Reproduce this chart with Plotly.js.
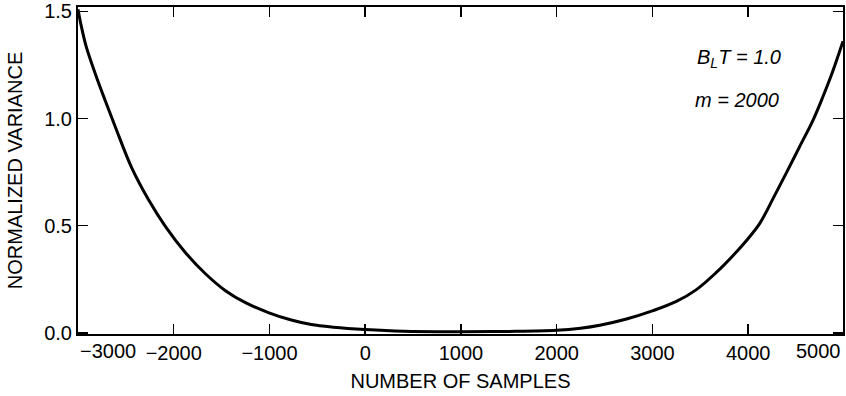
<!DOCTYPE html>
<html>
<head>
<meta charset="utf-8">
<script src="https://cdn.plot.ly/plotly-3.0.1.min.js"></script>
<style>
  html, body { margin: 0; padding: 0; background: #fff; }
  #chart { width: 846px; height: 396px; }
</style>
</head>
<body>
<div id="chart"></div>
<script>
// Data
const samples = [-3000, -2970, -2914, -2815, -2711, -2607, -2440, -2263, -2086, -1877, -1669, -1460, -1251, -1012, -772, -563, -334, 0, 400, 1000, 1500, 2000, 2250, 2450, 2729, 3006, 3250, 3459, 3667, 3840, 3980, 4119, 4258, 4397, 4536, 4675, 4779, 4883, 4990];
const variance = [1.51, 1.44, 1.335, 1.203, 1.078, 0.957, 0.771, 0.621, 0.496, 0.374, 0.276, 0.197, 0.141, 0.095, 0.060, 0.039, 0.027, 0.016, 0.008, 0.006, 0.007, 0.012, 0.022, 0.036, 0.065, 0.104, 0.147, 0.202, 0.282, 0.360, 0.430, 0.510, 0.625, 0.745, 0.868, 0.990, 1.100, 1.220, 1.360];

const xTickVals = [-3000, -2000, -1000, 0, 1000, 2000, 3000, 4000, 5000];
const xTickText = ['\u22123000', '\u22122000', '\u22121000', '0', '1000', '2000', '3000', '4000', '5000'];
const yTickVals = [0, 0.5, 1.0, 1.5];
const yTickText = ['0.0', '0.5', '1.0', '1.5'];

const xTitle = 'NUMBER OF SAMPLES';
const yTitle = 'NORMALIZED VARIANCE';
const noteLines = ['<i>B<sub>L</sub>T = 1.0</i>', '<i>m = 2000</i>'];

const xRange = [-3000, 4990];
const yRange = [-0.005, 1.52];

const FONT = 'Liberation Sans, Arial, Helvetica, sans-serif';
const FS = 20;

// Edge labels (at the plot border) are drawn as annotations, shifted inward like the original
const last = xTickVals.length - 1;
const innerVals = xTickVals.slice(1, last);
const innerText = xTickText.slice(1, last);

const annotations = [
  { xref: 'paper', yref: 'paper', x: 0.806, y: 0.843, xanchor: 'left', yanchor: 'middle',
    text: noteLines[0], showarrow: false, font: { family: FONT, size: FS, color: '#000' } },
  { xref: 'paper', yref: 'paper', x: 0.804, y: 0.716, xanchor: 'left', yanchor: 'middle',
    text: noteLines[1], showarrow: false, font: { family: FONT, size: FS, color: '#000' } },
  { xref: 'x', yref: 'paper', x: xRange[0], y: 0, yshift: -4, xanchor: 'left', yanchor: 'top',
    text: xTickText[0], showarrow: false, font: { family: FONT, size: FS, color: '#000' } },
  { xref: 'x', yref: 'paper', x: xRange[1], y: 0, yshift: -4, xanchor: 'right', yanchor: 'top',
    text: xTickText[last], showarrow: false, font: { family: FONT, size: FS, color: '#000' } }
];

const trace = {
  x: samples, y: variance, type: 'scatter', mode: 'lines',
  line: { color: '#000', width: 3, shape: 'spline', smoothing: 1 },
  hoverinfo: 'skip', cliponaxis: true
};

const layout = {
  width: 846, height: 396,
  margin: { l: 78, r: 3, t: 7, b: 62 },
  paper_bgcolor: '#fff', plot_bgcolor: '#fff',
  showlegend: false,
  font: { family: FONT, size: FS, color: '#000' },
  xaxis: {
    range: xRange, tickmode: 'array', tickvals: innerVals, ticktext: innerText,
    ticks: 'inside', ticklen: 10, tickwidth: 1.5, tickcolor: '#000',
    showline: true, linecolor: '#000', linewidth: 2, mirror: 'allticks',
    showgrid: false, zeroline: false,
    tickfont: { family: FONT, size: FS, color: '#000' },
    title: { text: xTitle, font: { family: FONT, size: FS, color: '#000' }, standoff: 11 }
  },
  yaxis: {
    range: yRange, tickmode: 'array', tickvals: yTickVals, ticktext: yTickText,
    ticks: 'inside', ticklen: 10, tickwidth: 1.5, tickcolor: '#000',
    showline: true, linecolor: '#000', linewidth: 2, mirror: 'allticks',
    showgrid: false, zeroline: false,
    tickfont: { family: FONT, size: FS, color: '#000' },
    title: { text: yTitle, font: { family: FONT, size: FS, color: '#000' }, standoff: 16 }
  },
  annotations: annotations
};

Plotly.newPlot('chart', [trace], layout, { staticPlot: true, displayModeBar: false });
</script>
</body>
</html>
